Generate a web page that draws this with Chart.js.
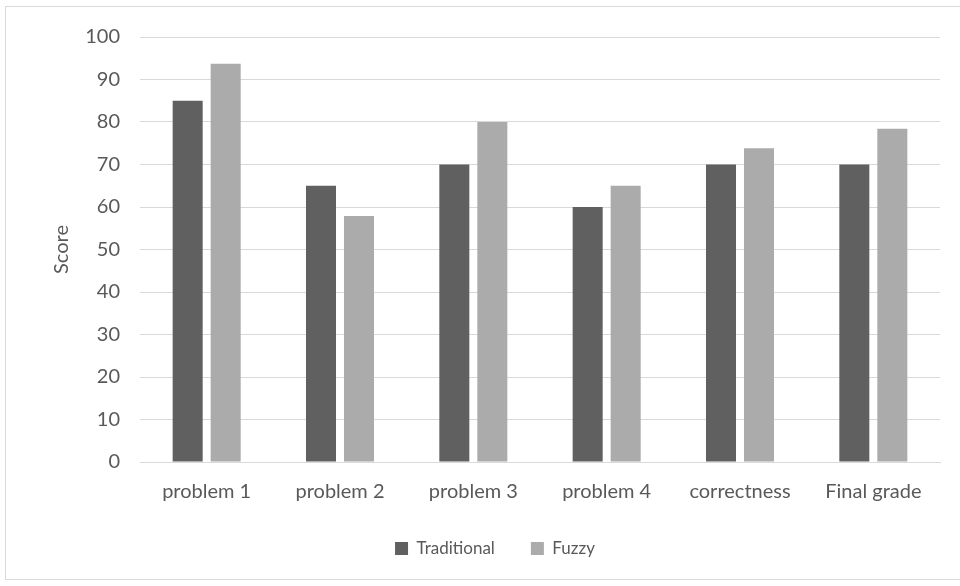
<!DOCTYPE html>
<html>
<head>
<meta charset="utf-8">
<script src="https://cdn.jsdelivr.net/npm/chart.js@4"></script>
<style>
  html, body { margin: 0; padding: 0; background: #fff; }
  #frame {
    position: absolute; left: 5px; top: 6px; width: 960px; height: 574px;
    border: 1px solid #d9d9d9; box-sizing: border-box;
  }
  #wrap { position: absolute; left: 0; top: 0; width: 960px; height: 586px; }
</style>
</head>
<body>
<div id="frame"></div>
<div id="wrap"><canvas id="scoreChart"></canvas></div>
<script>
// categories and series
const categories = ['problem 1', 'problem 2', 'problem 3', 'problem 4', 'correctness', 'Final grade'];
const traditional = [85, 65, 70, 60, 70, 70];
const fuzzy = [93.7, 57.9, 80, 65, 73.8, 78.4];
const yTicks = [0, 10, 20, 30, 40, 50, 60, 70, 80, 90, 100];

const FONT = 'Lato, "Open Sans", sans-serif';
const TEXT = '#595959';

let scoreChartInstance = null;

function initScoreChart() {
    const ctx = document.getElementById('scoreChart');
    if (!ctx) return;

    scoreChartInstance = new Chart(ctx.getContext('2d'), {
        type: 'bar',
        data: {
            labels: categories,
            datasets: [
                {
                    label: 'Traditional',
                    data: traditional,
                    backgroundColor: '#606060',
                    barPercentage: 0.79,
                    categoryPercentage: 0.57
                },
                {
                    label: 'Fuzzy',
                    data: fuzzy,
                    backgroundColor: '#ababab',
                    barPercentage: 0.79,
                    categoryPercentage: 0.57
                }
            ]
        },
        options: {
            responsive: true,
            maintainAspectRatio: false,
            animation: false,
            layout: { padding: { left: 50, right: 20, top: 37, bottom: 19 } },
            plugins: {
                legend: {
                    position: 'bottom',
                    labels: {
                        boxWidth: 13,
                        boxHeight: 13,
                        padding: 36,
                        color: TEXT,
                        font: { family: FONT, size: 17 }
                    }
                },
                tooltip: { enabled: false }
            },
            scales: {
                y: {
                    min: 0,
                    max: 100,
                    afterBuildTicks: (axis) => { axis.ticks = yTicks.map(v => ({ value: v })); },
                    afterFit: (axis) => { axis.width = 90; },
                    border: { display: false },
                    grid: { color: '#d9d9d9', lineWidth: 1, drawTicks: false },
                    ticks: { color: TEXT, padding: 20, font: { family: FONT, size: 20 } },
                    title: {
                        display: true,
                        text: 'Score',
                        color: TEXT,
                        padding: { top: 0, bottom: 0 },
                        font: { family: FONT, size: 20 }
                    }
                },
                x: {
                    afterFit: (axis) => { axis.height = 42; },
                    border: { display: true, color: '#d9d9d9' },
                    grid: { display: false },
                    ticks: { color: TEXT, padding: 10, font: { family: FONT, size: 20 } }
                }
            }
        }
    });
}

initScoreChart();
</script>
</body>
</html>
